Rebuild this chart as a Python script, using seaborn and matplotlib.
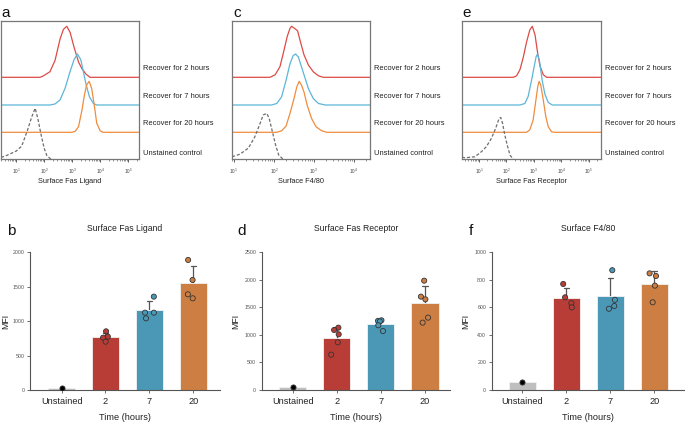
import numpy as np
import pandas as pd
import matplotlib
matplotlib.use("Agg")
import matplotlib.pyplot as plt
import matplotlib.ticker as mticker
import seaborn as sns

sns.set_theme(style="white")
plt.rcParams['font.family'] = ['Liberation Sans', 'DejaVu Sans']
np.random.seed(3)

W, H = 685, 423

# ---------------- flow cytometry histograms (log10 intensity, normalised count) ----------------
CONDITIONS = ['Recover for 2 hours', 'Recover for 7 hours', 'Recover for 20 hours', 'Unstained control']
LINE_COLORS = ['#dc4b46', '#5bb6d8', '#f08c3e', '#6e6e6e']

# panel a - Surface Fas Ligand
fasl_2h_x = [0.3, 1.86, 1.98, 2.21, 2.39, 2.57, 2.69, 2.81, 2.93, 3.07, 3.23, 3.35, 3.5, 3.64, 5.6]
fasl_2h_y = [0, 0, 3, 11, 33, 75, 94, 100, 88, 59, 30, 17, 6, 0, 0]
fasl_7h_x = [0.3, 2.21, 2.39, 2.57, 2.75, 2.93, 3.07, 3.19, 3.31, 3.40, 3.5, 3.62, 3.76, 3.88, 5.6]
fasl_7h_y = [0, 0, 2, 10, 33, 66, 89, 100, 89, 66, 40, 16, 3, 0, 0]
fasl_20h_x = [0.3, 2.99, 3.11, 3.23, 3.35, 3.44, 3.52, 3.61, 3.70, 3.80, 3.88, 4.0, 4.1, 5.6]
fasl_20h_y = [0, 0, 2, 11, 43, 73, 93, 100, 86, 50, 18, 3, 0, 0]
fasl_ctrl_x = [0.46, 0.6, 1.0, 1.2, 1.4, 1.55, 1.68, 1.78, 1.9, 2.0, 2.1, 2.25]
fasl_ctrl_y = [4, 6, 16, 26, 56, 82, 100, 79, 46, 22, 7, 0]

# panel c - Surface F4/80
f480_2h_x = [0.5, 1.9, 2.03, 2.15, 2.25, 2.33, 2.4, 2.44, 2.53, 2.59, 2.67, 2.75, 2.86, 2.98, 3.11, 3.23, 4.8]
f480_2h_y = [0, 0, 5, 21, 53, 80, 96, 100, 95, 91, 67, 44, 24, 11, 3, 0, 0]
f480_7h_x = [0.5, 1.94, 2.07, 2.19, 2.30, 2.4, 2.48, 2.54, 2.61, 2.69, 2.78, 2.86, 2.98, 3.11, 3.28, 4.8]
f480_7h_y = [0, 0, 3, 16, 48, 81, 97, 100, 94, 74, 52, 32, 13, 3, 0, 0]
f480_20h_x = [0.5, 2.07, 2.19, 2.30, 2.4, 2.5, 2.57, 2.63, 2.69, 2.75, 2.83, 2.94, 3.05, 3.19, 3.32, 4.8]
f480_20h_y = [0, 0, 3, 12, 37, 66, 89, 100, 92, 79, 53, 27, 11, 3, 0, 0]
f480_ctrl_x = [0.95, 1.15, 1.36, 1.52, 1.65, 1.73, 1.82, 1.88, 1.96, 2.04, 2.12, 2.23]
f480_ctrl_y = [5, 10, 22, 44, 70, 87, 90, 80, 54, 28, 8, 0]

# panel e - Surface Fas Receptor
fasr_2h_x = [0.3, 2.25, 2.37, 2.49, 2.61, 2.73, 2.85, 2.94, 3.04, 3.13, 3.22, 3.34, 3.46, 5.6]
fasr_2h_y = [0, 0, 3, 15, 39, 69, 93, 100, 83, 49, 22, 5, 0, 0]
fasr_7h_x = [0.3, 2.49, 2.67, 2.79, 2.91, 3.01, 3.08, 3.13, 3.20, 3.30, 3.40, 3.52, 3.67, 5.6]
fasr_7h_y = [0, 0, 3, 17, 48, 76, 95, 100, 87, 48, 21, 5, 0, 0]
fasr_20h_x = [0.3, 2.73, 2.85, 2.97, 3.07, 3.14, 3.19, 3.25, 3.34, 3.43, 3.52, 3.64, 3.76, 5.6]
fasr_20h_y = [0, 0, 5, 24, 63, 90, 100, 92, 63, 31, 11, 1, 0, 0]
fasr_ctrl_x = [0.38, 0.49, 0.85, 1.09, 1.27, 1.45, 1.6, 1.73, 1.79, 1.86, 1.94, 2.04, 2.13, 2.25]
fasr_ctrl_y = [4, 3, 5, 15, 25, 41, 60, 80, 82, 70, 47, 25, 8, 0]

# ---------------- MFI bar charts ----------------
TIME_LABELS = ['Unstained', '2', '7', '20']
BAR_COLORS = ['#bfbfbf', '#b93d37', '#4b98b6', '#cd7e42']
POINT_COLORS = ['#000000', '#b93d37', '#4b98b6', '#cd7e42']

# panel b - Surface Fas Ligand
mfi_fasl = {
    'Unstained': [35],
    '2': [852, 775, 760, 702],
    '7': [1356, 1123, 1123, 1041],
    '20': [1889, 1598, 1390, 1332],
}
# panel d - Surface Fas Receptor
mfi_fasr = {
    'Unstained': [58],
    '2': [1132, 1090, 1011, 866, 642],
    '7': [1265, 1255, 1245, 1175, 1070],
    '20': [1985, 1695, 1646, 1314, 1223],
}
# panel f - Surface F4/80
mfi_f480 = {
    'Unstained': [58],
    '2': [770, 673, 630, 600],
    '7': [870, 655, 610, 590],
    '20': [847, 828, 758, 637],
}


def px_axes(fig, x0, y0, x1, y1):
    return fig.add_axes([x0 / W, 1 - y1 / H, (x1 - x0) / W, (y1 - y0) / H])


def hist_panel(ax, curves, xlim, xlabel, decades):
    offsets = [82, 54.3, 27, 0]
    for (lx, ly), off, col, name in zip(curves, offsets, LINE_COLORS, CONDITIONS):
        df = pd.DataFrame({'x': 10 ** np.array(lx), 'y': off + 0.51 * np.array(ly)})
        dashed = name.startswith('Unstained')
        sns.lineplot(data=df, x='x', y='y', ax=ax, color=col, lw=0.9,
                     linestyle=(0, (2.5, 1.5)) if dashed else '-', estimator=None, sort=False)
        ax.text(1.03, off + (6 if dashed else 9), name, transform=ax.get_yaxis_transform(),
                fontsize=5.4, va='center', ha='left', color='#222222')
    ax.set_xscale('log')
    ax.set_xlim(10 ** xlim[0], 10 ** xlim[1])
    ax.set_ylim(0, 138.6)
    ax.set_yticks([])
    ax.set_xticks([10 ** d for d in decades])
    ax.xaxis.set_major_formatter(mticker.LogFormatterSciNotation())
    ax.xaxis.set_minor_locator(mticker.LogLocator(base=10, subs=np.arange(2, 10), numticks=20))
    ax.xaxis.set_minor_formatter(mticker.NullFormatter())
    ax.tick_params(axis='x', which='major', labelsize=3.4, length=2.5, width=0.6,
                   colors='#444444', pad=2.5, bottom=True)
    ax.tick_params(axis='x', which='minor', length=1.5, width=0.4, colors='#444444', bottom=True)
    for s in ax.spines.values():
        s.set_color('#777777')
        s.set_linewidth(0.9)
    ax.set_xlabel(xlabel, fontsize=5.3, labelpad=2, color='#222222')
    ax.set_ylabel('')


def bar_panel(ax, data, ymax, step, title, xlim, label_gap_px):
    rows = [(k, v) for k in TIME_LABELS for v in data[k]]
    df = pd.DataFrame(rows, columns=['time', 'mfi'])
    sns.barplot(data=df, x='time', y='mfi', order=TIME_LABELS, hue='time', hue_order=TIME_LABELS,
                palette=BAR_COLORS, legend=False, ax=ax, width=0.62, errorbar='sd', capsize=0.12,
                err_kws={'color': '#555555', 'linewidth': 0.9, 'zorder': 0.5},
                edgecolor='#f2f2f2', linewidth=0.6, saturation=1)
    sns.stripplot(data=df, x='time', y='mfi', order=TIME_LABELS, hue='time', hue_order=TIME_LABELS,
                  palette=POINT_COLORS, legend=False, ax=ax, jitter=0.13, size=3.7,
                  edgecolor='#333333', linewidth=0.6, zorder=3)
    ax.set_ylim(0, ymax)
    ax.set_xlim(*xlim)
    ax.set_yticks(np.arange(0, ymax + 1, step))
    sns.despine(ax=ax)
    for s in ['left', 'bottom']:
        ax.spines[s].set_color('#555555')
        ax.spines[s].set_linewidth(0.8)
    ax.tick_params(axis='y', labelsize=3.8, length=2, width=0.6, colors='#555555', left=True, pad=2)
    ax.tick_params(axis='x', labelsize=6.6, length=2, width=0.6, colors='#555555',
                   labelcolor='#222222', bottom=True, pad=3)
    ax.set_xlabel('Time (hours)', fontsize=6.6, color='#222222', labelpad=5)
    ax.set_ylabel('MFI', fontsize=6.3, color='#222222')
    width_px = ax.get_position().width * W
    ax.yaxis.set_label_coords(-label_gap_px / width_px, 0.5)
    ax.set_title(title, fontsize=6.2, color='#222222', pad=15)


fig = plt.figure(figsize=(W / 100, H / 100), dpi=100)

ax_a = px_axes(fig, 1, 20.7, 139, 159.3)
hist_panel(ax_a, [(fasl_2h_x, fasl_2h_y), (fasl_7h_x, fasl_7h_y), (fasl_20h_x, fasl_20h_y),
                  (fasl_ctrl_x, fasl_ctrl_y)], (0.46, 5.39), 'Surface Fas Ligand', [1, 2, 3, 4, 5])
ax_c = px_axes(fig, 232, 20.7, 370, 159.3)
hist_panel(ax_c, [(f480_2h_x, f480_2h_y), (f480_7h_x, f480_7h_y), (f480_20h_x, f480_20h_y),
                  (f480_ctrl_x, f480_ctrl_y)], (0.95, 4.4), 'Surface F4/80', [1, 2, 3, 4])
ax_e = px_axes(fig, 462, 20.7, 600.7, 159.3)
hist_panel(ax_e, [(fasr_2h_x, fasr_2h_y), (fasr_7h_x, fasr_7h_y), (fasr_20h_x, fasr_20h_y),
                  (fasr_ctrl_x, fasr_ctrl_y)], (0.38, 5.43), 'Surface Fas Receptor', [1, 2, 3, 4, 5])

ax_b = px_axes(fig, 30, 252.3, 220, 390)
bar_panel(ax_b, mfi_fasl, 2000, 500, 'Surface Fas Ligand', (-0.72, 3.61), 20)
ax_d = px_axes(fig, 261.7, 252.3, 450, 390)
bar_panel(ax_d, mfi_fasr, 2500, 500, 'Surface Fas Receptor', (-0.70, 3.57), 21.5)
ax_f = px_axes(fig, 491.7, 252.3, 685, 390)
bar_panel(ax_f, mfi_f480, 1000, 200, 'Surface F4/80', (-0.70, 3.70), 21.5)

for lbl, x, y in [('a', 1, 13), ('c', 233, 13), ('e', 462, 13),
                  ('b', 7, 231), ('d', 237, 231), ('f', 469, 231)]:
    fig.text(x / W, 1 - y / H, lbl, fontsize=11, va='center', ha='left', color='#111111')

fig.savefig('out.png', dpi=100)
